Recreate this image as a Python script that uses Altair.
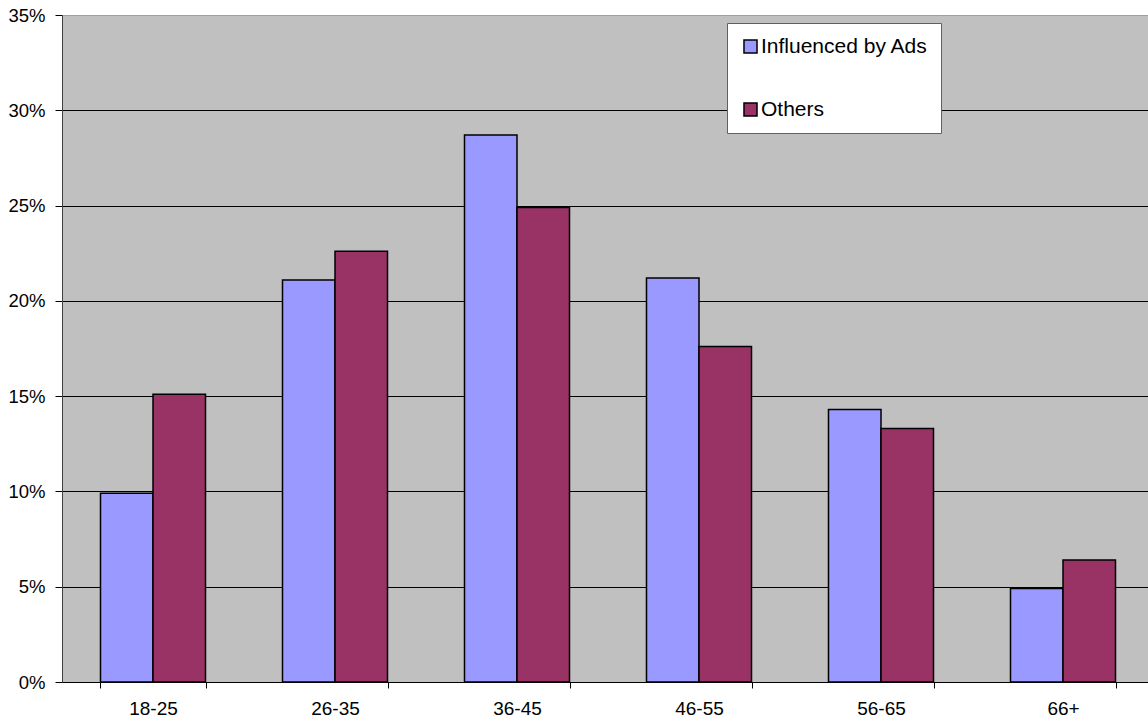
import altair as alt
import pandas as pd

# Share of respondents per age group
age_groups = ["18-25", "26-35", "36-45", "46-55", "56-65", "66+"]
influenced = [0.099, 0.211, 0.287, 0.212, 0.143, 0.049]
others = [0.151, 0.226, 0.249, 0.176, 0.133, 0.064]
series_names = ["Influenced by Ads", "Others"]
series_colors = ["#9999FF", "#993366"]
y_ticks = [0.0, 0.05, 0.10, 0.15, 0.20, 0.25, 0.30, 0.35]

rows = []
for i, age in enumerate(age_groups):
    rows.append({"age": age, "series": series_names[0], "share": influenced[i]})
    rows.append({"age": age, "series": series_names[1], "share": others[i]})
df = pd.DataFrame(rows)

FONT = "Liberation Sans"

bars = alt.Chart(df).mark_bar(stroke="black", strokeWidth=1.5).encode(
    x=alt.X(
        "age:N",
        sort=age_groups,
        title=None,
        scale=alt.Scale(range=[0, 1092], paddingInner=0.423, paddingOuter=0.2115),
        axis=alt.Axis(
            labelAngle=0,
            labelFontSize=19,
            labelFont=FONT,
            labelColor="black",
            labelPadding=11,
            tickBand="extent",
            tickSize=6,
            tickColor="black",
            domainColor="black",
            grid=False,
        ),
    ),
    xOffset=alt.XOffset("series:N", sort=series_names, scale=alt.Scale(paddingInner=0, paddingOuter=0)),
    y=alt.Y(
        "share:Q",
        title=None,
        scale=alt.Scale(domain=[0, 0.35], nice=False),
        axis=alt.Axis(
            values=y_ticks,
            format=".0%",
            labelFontSize=18.5,
            labelFont=FONT,
            labelColor="black",
            labelPadding=10,
            tickSize=7,
            tickColor="black",
            domainColor="#404040",
            grid=True,
            gridColor=alt.condition("datum.value >= 0.349", alt.value("#A0A0A0"), alt.value("black")),
            gridWidth=1,
        ),
    ),
    color=alt.Color(
        "series:N",
        sort=series_names,
        scale=alt.Scale(domain=series_names, range=series_colors),
        legend=alt.Legend(
            title=None,
            orient="none",
            legendX=665,
            legendY=8,
            fillColor="white",
            strokeColor="#606060",
            padding=13,
            rowPadding=41,
            symbolType="square",
            symbolSize=170,
            symbolStrokeColor="black",
            symbolStrokeWidth=1.5,
            labelFontSize=21,
            labelFont=FONT,
            labelColor="black",
            labelOffset=0,
            labelLimit=400,
        ),
    ),
)

chart = bars.properties(
    width=1086,
    height=667,
    autosize=alt.AutoSizeParams(type="none"),
    padding={"left": 62, "top": 15, "right": 0, "bottom": 39},
    background="white",
).configure_view(
    fill="#C0C0C0",
    stroke="#A0A0A0",
    strokeWidth=1,
)

chart.save("out.html", embed_options={"renderer": "svg", "actions": False})
